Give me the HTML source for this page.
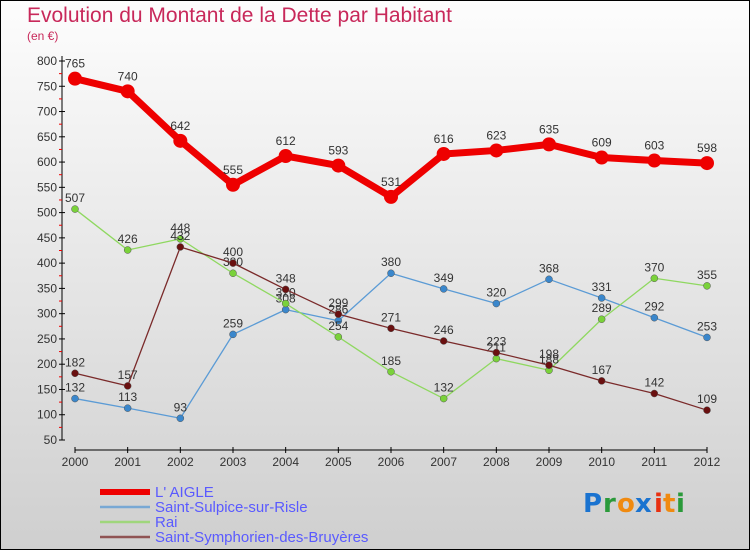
<!DOCTYPE html>
<html><head><meta charset="utf-8"><style>
html,body{margin:0;padding:0}
body{width:750px;height:550px;overflow:hidden;font-family:"Liberation Sans",sans-serif}
svg{display:block}
</style></head><body>
<svg id="chart" width="750" height="550" viewBox="0 0 750 550">
<defs>
<linearGradient id="bg" x1="0" y1="0" x2="0" y2="1">
<stop offset="0" stop-color="#fdfdfd"/><stop offset="1" stop-color="#cfcfcf"/>
</linearGradient>
</defs>
<rect x="0.5" y="0.5" width="749" height="549" fill="url(#bg)" stroke="#000"/>
<text x="27" y="22" font-size="21" fill="#c8285a">Evolution du Montant de la Dette par Habitant</text>
<text x="27" y="40" font-size="12" fill="#c8285a">(en €)</text>
<g id="axes"></g>
<g id="series"></g>
<g id="legend" font-size="15" fill="#5a5aff"></g>
<g font-size="26" font-weight="bold" font-family="'DejaVu Sans',sans-serif">
<text x="583" y="512" fill="#1a73d0">P</text><text x="603" y="512" fill="#2a9a3a">r</text><text x="617" y="512" fill="#f08a10">o</text><text x="635" y="512" fill="#1a73d0">x</text><text x="654" y="512" fill="#e83010">i</text><text x="663" y="512" fill="#f08a10">t</text><text x="676" y="512" fill="#2a9a3a">i</text>
</g>
</svg>
<script>
const years=[2000,2001,2002,2003,2004,2005,2006,2007,2008,2009,2010,2011,2012];
const aigle=[765,740,642,555,612,593,531,616,623,635,609,603,598];
const sulpice=[132,113,93,259,308,286,380,349,320,368,331,292,253];
const rai=[507,426,448,380,320,254,185,132,211,188,289,370,355];
const symph=[182,157,432,400,348,299,271,246,223,198,167,142,109];
const yTicks=[50,100,150,200,250,300,350,400,450,500,550,600,650,700,750,800];
const NS="http://www.w3.org/2000/svg";
const X=i=>75+i*(707-75)/12;
const Y=v=>440-(v-50)*(440-61)/750;
function mk(t,a,p){const e=document.createElementNS(NS,t);for(const k in a)e.setAttribute(k,a[k]);p.appendChild(e);return e;}
const ax=document.getElementById('axes');
const yl=mk('line',{x1:62,y1:56,x2:62,y2:440,stroke:'#000'},ax);


const xl=mk('line',{x1:75,y1:450,x2:707,y2:450,stroke:'#000'},ax);


yTicks.forEach(v=>{
 mk('line',{x1:59,y1:Y(v),x2:65,y2:Y(v),stroke:'#000'},ax);
 if(v<800) mk('line',{x1:59,y1:Y(v+25),x2:62,y2:Y(v+25),stroke:'#e00'},ax);
 const t=mk('text',{x:57,y:Y(v)+4,'text-anchor':'end','font-size':12,fill:'#333'},ax);
 t.textContent=v;
 
 
});
years.forEach((y,i)=>{
 mk('line',{x1:X(i),y1:447,x2:X(i),y2:453,stroke:'#000'},ax);
 const t=mk('text',{x:X(i),y:466,'text-anchor':'middle','font-size':12,fill:'#333'},ax);
 t.textContent=y;
 
 
});
const sg=document.getElementById('series');
const defs=[
 {name:'saint-sulpice',data:sulpice,color:'#5b9bd5',dot:'#3a87cc',w:1.3,r:3.5,label:'Saint-Sulpice-sur-Risle'},
 {name:'rai',data:rai,color:'#8fd860',dot:'#7ad23a',w:1.3,r:3.5,label:'Rai'},
 {name:'saint-symphorien',data:symph,color:'#7a2a2a',dot:'#6a1010',w:1.3,r:3.5,label:'Saint-Symphorien-des-Bruyères'},
 {name:'l-aigle',data:aigle,color:'#ee0000',dot:'#ee0000',w:7,r:7,label:"L' AIGLE"}
];
defs.forEach(s=>{
 const g=mk('g',{},sg);
 
 
 const p=mk('polyline',{points:s.data.map((v,i)=>X(i)+','+Y(v)).join(' '),fill:'none',stroke:s.color,'stroke-width':s.w,'stroke-linejoin':'round'},g);
 
 
 s.data.forEach((v,i)=>{
  const c=mk('circle',{cx:X(i),cy:Y(v),r:s.r,fill:s.dot,stroke:s.w>2?'none':'#555','stroke-width':0.5},g);
  
  
  const t=mk('text',{x:X(i),y:Y(v)-(s.w>2?11:7),'text-anchor':'middle','font-size':12,fill:'#333'},g);
  t.textContent=v;
  
  
 });
});
const lg=document.getElementById('legend');
const order=[defs[3],defs[0],defs[1],defs[2]];
order.forEach((s,k)=>{
 const y=492+k*15;
 const l=mk('line',{x1:100,y1:y,x2:150,y2:y,stroke:s.color,'stroke-width':s.w>2?6:2.5,opacity:s.w>2?1:0.75},lg);
 
 
 const t=mk('text',{x:155,y:y+5},lg);
 t.textContent=s.label;
 
 
});
</script>
</body></html>
